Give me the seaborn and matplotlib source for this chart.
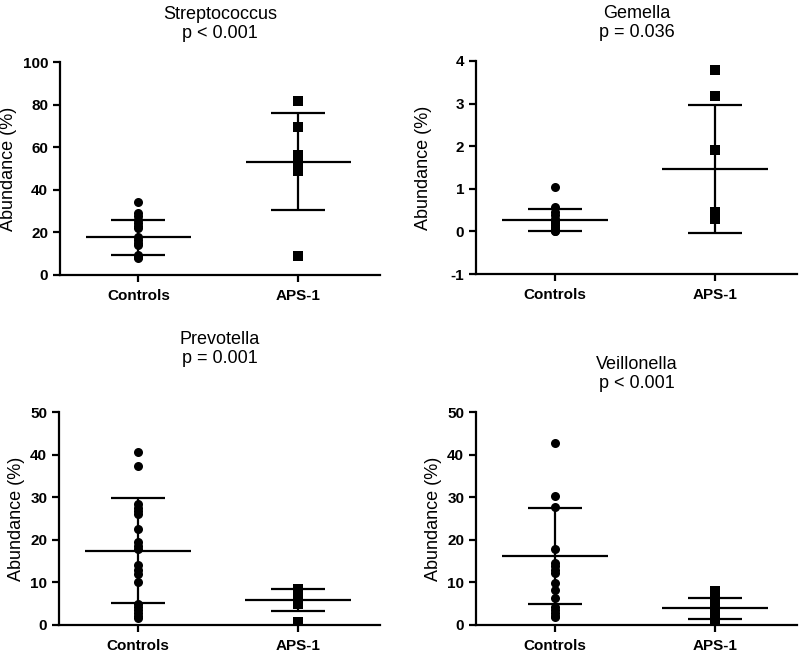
import numpy as np
import pandas as pd
import seaborn as sns
import matplotlib.pyplot as plt

# values (abundance, %)
groups = ['Controls', 'APS-1']

strep_controls = [34.5, 29, 27.5, 26, 24.5, 23, 22, 18, 16.5, 15, 14, 9.5, 8.5, 8]
strep_aps = [81.7, 69.6, 56.5, 54, 51.5, 49, 8.9]
strep_mean = [17.7, 53.2]
strep_sd = [8.1, 22.7]

gem_controls = [1.05, 0.57, 0.45, 0.38, 0.3, 0.25, 0.2, 0.15, 0.1, 0.05, 0.02, 0.0]
gem_aps = [3.8, 3.18, 1.92, 0.45, 0.38, 0.28]
gem_mean = [0.26, 1.47]
gem_sd = [0.26, 1.5]

prev_controls = [40.5, 37.3, 28.3, 27.5, 26.8, 26, 22.5, 19.5, 18.5, 17.8, 14, 13, 12, 10,
                 5, 4.3, 3.5, 2.8, 2.2, 1.6]
prev_aps = [8.5, 7.8, 7, 6.3, 5.5, 5, 0.6]
prev_mean = [17.4, 5.9]
prev_sd = [12.3, 2.6]

veil_controls = [42.8, 30.3, 27.8, 17.8, 14.5, 13.8, 13, 12.2, 9.8, 8.1, 6.3, 4.3, 3.5, 2.8,
                 2.2, 1.9]
veil_aps = [8, 7.2, 6.4, 5.5, 4.5, 3.5, 2.5, 1.5, 0.8, 0.3, 0.0]
veil_mean = [16.2, 3.9]
veil_sd = [11.3, 2.5]

titles = ['Streptococcus\np < 0.001', 'Gemella\np = 0.036',
          'Prevotella\np = 0.001', 'Veillonella\np < 0.001']

sns.set_theme(style='ticks')
plt.rcParams['font.family'] = ['Liberation Sans', 'DejaVu Sans']
plt.rcParams['axes.unicode_minus'] = False
for key in ['text.color', 'axes.labelcolor', 'xtick.color', 'ytick.color', 'axes.edgecolor']:
    plt.rcParams[key] = 'black'

fig = plt.figure(figsize=(8, 6.52), dpi=100)
W, H = 800, 652

# axes boxes in pixels: left, right, top, bottom
boxes = [(60, 380, 62, 275), (476, 797, 61, 274), (59, 380, 412, 625), (476, 797, 412, 625)]
ylims = [(0, 100), (-1, 4), (0, 50), (0, 50)]
yticks = [np.arange(0, 101, 20), np.arange(-1, 5, 1), np.arange(0, 51, 10), np.arange(0, 51, 10)]
title_pads = [17, 17, 35, 17]
label_x = [-0.134, -0.137, -0.106, -0.106]

panels = [
    (strep_controls, strep_aps, strep_mean, strep_sd),
    (gem_controls, gem_aps, gem_mean, gem_sd),
    (prev_controls, prev_aps, prev_mean, prev_sd),
    (veil_controls, veil_aps, veil_mean, veil_sd),
]

for i, (ctrl, aps, means, sds) in enumerate(panels):
    l, r, t, b = boxes[i]
    ax = fig.add_axes([l / W, 1 - b / H, (r - l) / W, (b - t) / H])

    df = pd.DataFrame({
        'group': ['Controls'] * len(ctrl) + ['APS-1'] * len(aps),
        'abundance': ctrl + aps,
    })

    sns.stripplot(data=df[df['group'] == 'Controls'], x='group', y='abundance', order=groups,
                  jitter=False, marker='o', color='black', size=6.5, linewidth=0, ax=ax, zorder=3)
    sns.stripplot(data=df[df['group'] == 'APS-1'], x='group', y='abundance', order=groups,
                  jitter=False, marker='s', color='black', size=6.5, linewidth=0, ax=ax, zorder=3)

    xpos = np.arange(len(groups))
    ax.errorbar(xpos, means, yerr=sds, fmt='none', ecolor='black', elinewidth=1.6,
                capsize=19.5, capthick=1.6, zorder=4)
    ax.hlines(means, xpos - 0.33, xpos + 0.33, color='black', lw=1.6, zorder=4)

    ax.set_xlim(-0.49, 1.51)
    ax.set_ylim(*ylims[i])
    ax.set_yticks(yticks[i])
    ax.set_xlabel('')
    ax.set_ylabel('Abundance (%)', fontsize=13)
    ax.yaxis.set_label_coords(label_x[i], 0.5)
    ax.set_title(titles[i], fontsize=13, pad=title_pads[i], linespacing=1.2)

    sns.despine(ax=ax)
    for s in ['left', 'bottom']:
        ax.spines[s].set_linewidth(1.6)
        ax.spines[s].set_color('black')
    ax.tick_params(axis='both', length=5, width=1.6, color='black', labelcolor='black')
    ax.tick_params(axis='y', pad=3.5)
    ax.tick_params(axis='x', pad=5)
    for lab in ax.get_xticklabels() + ax.get_yticklabels():
        lab.set_fontweight('bold')
        lab.set_fontsize(11)

fig.savefig('out.png', dpi=100)
